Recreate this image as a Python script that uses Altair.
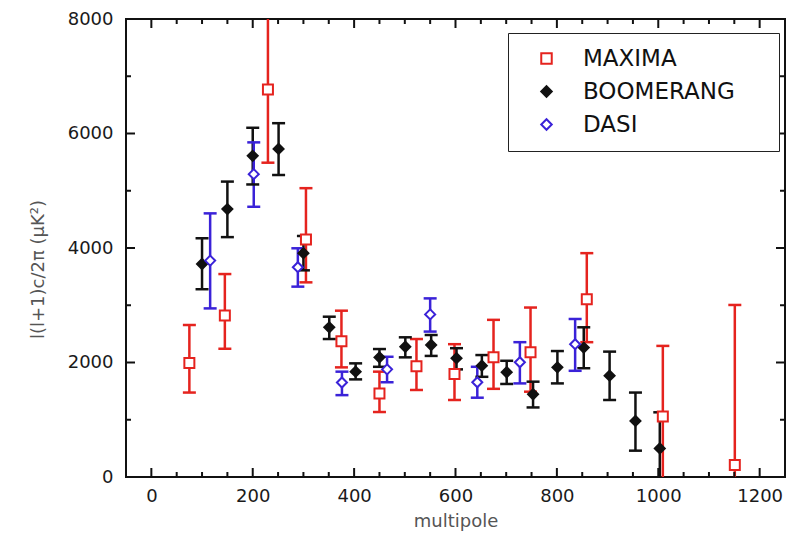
import altair as alt
import pandas as pd

# ---------------- data ----------------
series_order = ["MAXIMA", "BOOMERANG", "DASI"]

maxima_l   = [75, 145, 230, 305, 375, 450, 523, 598, 675, 748, 859, 1009, 1151]
maxima_val = [1990, 2820, 6770, 4150, 2370, 1460, 1935, 1800, 2090, 2180, 3105, 1055, 210]
maxima_lo  = [1475, 2240, 5490, 3400, 1915, 1135, 1520, 1345, 1540, 1490, 2355, -150, -150]
maxima_hi  = [2655, 3545, 8400, 5045, 2905, 1840, 2410, 2320, 2745, 2960, 3910, 2290, 3005]

boom_l   = [100, 150, 200, 251, 300, 351, 403, 450, 501, 552, 602, 652, 701, 753, 801, 853, 904, 955, 1003]
boom_val = [3720, 4680, 5610, 5730, 3910, 2615, 1840, 2090, 2275, 2305, 2075, 1945, 1830, 1445, 1915, 2260, 1770, 980, 500]
boom_lo  = [3280, 4190, 5110, 5275, 3610, 2410, 1705, 1925, 2090, 2115, 1880, 1750, 1625, 1215, 1635, 1900, 1345, 460, -150]
boom_hi  = [4170, 5160, 6100, 6180, 4210, 2800, 1985, 2235, 2440, 2480, 2250, 2130, 2030, 1665, 2200, 2615, 2190, 1475, 1130]

dasi_l   = [116, 202, 289, 376, 465, 550, 643, 727, 836]
dasi_val = [3780, 5290, 3665, 1650, 1880, 2840, 1655, 2005, 2320]
dasi_lo  = [2945, 4720, 3325, 1430, 1655, 2540, 1385, 1635, 1855]
dasi_hi  = [4605, 5845, 3995, 1840, 2100, 3120, 1925, 2355, 2760]

x_ticks_major = [0, 200, 400, 600, 800, 1000, 1200]
x_ticks_minor = [50, 100, 150, 250, 300, 350, 450, 500, 550, 650, 700, 750,
                 850, 900, 950, 1050, 1100, 1150]
y_ticks_major = [0, 2000, 4000, 6000, 8000]
y_ticks_minor = [1000, 3000, 5000, 7000]

colors = ["#e5231e", "#111111", "#3a22d8"]
fills = ["#ffffff", "#111111", "#ffffff"]
shapes = ["square", "diamond", "diamond"]

# ---------------- tables ----------------
def frame(name, l, v, lo, hi):
    return pd.DataFrame({"series": name, "l": l, "val": v, "lo": lo, "hi": hi})

df = pd.concat([
    frame("MAXIMA", maxima_l, maxima_val, maxima_lo, maxima_hi),
    frame("BOOMERANG", boom_l, boom_val, boom_lo, boom_hi),
    frame("DASI", dasi_l, dasi_val, dasi_lo, dasi_hi),
], ignore_index=True)

W, H = 659, 458
FONT = "DejaVu Sans"

xscale = alt.Scale(domain=[-50, 1250], nice=False, zero=False)
yscale = alt.Scale(domain=[0, 8000], nice=False, zero=False)

xaxis = alt.Axis(values=x_ticks_major, format="d", title="multipole", grid=False, ticks=False,
                 tickSize=0, domain=False, labelFont=FONT, labelFontSize=18,
                 labelColor="#1a1a1a", labelPadding=10, titleFont=FONT,
                 titleFontSize=18, titleFontWeight="normal", titleColor="#555555",
                 titlePadding=7)
yaxis = alt.Axis(values=y_ticks_major, format="d", title="l(l+1)c/2π (μK²)", grid=False,
                 ticks=False, tickSize=0, domain=False, labelFont=FONT,
                 labelFontSize=18, labelColor="#1a1a1a", labelPadding=13,
                 titleFont=FONT, titleFontSize=18, titleFontWeight="normal",
                 titleColor="#555555", titlePadding=20, titleY=250)

leg = alt.Legend(
    orient="none", legendX=382, legendY=14,
    labelExpr="datum.label + '\u00a0\u00a0\u00a0\u00a0\u200b'",
    strokeColor="#222222", fillColor="#ffffff",
    padding=14, rowPadding=9, symbolSize=110, symbolStrokeWidth=2,
    symbolOffset=13, labelOffset=25, labelFont=FONT, labelFontSize=23,
    labelColor="#111111", labelLimit=400,
)

stroke_enc = alt.Stroke("series:N", scale=alt.Scale(domain=series_order, range=colors),
                        title=None, legend=leg)

base = alt.Chart(df)

bars = base.mark_rule(strokeWidth=2.5, clip=True).encode(
    x=alt.X("l:Q", scale=xscale, axis=xaxis),
    y=alt.Y("lo:Q", scale=yscale, axis=yaxis),
    y2="hi:Q",
    stroke=stroke_enc,
)
cap_lo = base.mark_rule(strokeWidth=2.5, xOffset=-6.5, x2Offset=6.5, clip=True).encode(
    x="l:Q", x2="l:Q", y="lo:Q", stroke=stroke_enc)
cap_hi = base.mark_rule(strokeWidth=2.5, xOffset=-6.5, x2Offset=6.5, clip=True).encode(
    x="l:Q", x2="l:Q", y="hi:Q", stroke=stroke_enc)

pts = base.mark_point(size=100, strokeWidth=2, opacity=1, clip=True).encode(
    x="l:Q",
    y="val:Q",
    shape=alt.Shape("series:N", scale=alt.Scale(domain=series_order, range=shapes), title=None, legend=leg),
    fill=alt.Fill("series:N", scale=alt.Scale(domain=series_order, range=fills), title=None, legend=leg),
    stroke=stroke_enc,
)

# inward tick marks on all four sides
def xticks(vals, length):
    d = pd.DataFrame({"t": vals})
    bot = alt.Chart(d).mark_rule(color="#111", strokeWidth=2).encode(
        x="t:Q", y=alt.value(H), y2=alt.value(H - length))
    top = alt.Chart(d).mark_rule(color="#111", strokeWidth=2).encode(
        x="t:Q", y=alt.value(0), y2=alt.value(length))
    return [bot, top]

def yticks(vals, length):
    d = pd.DataFrame({"t": vals})
    left = alt.Chart(d).mark_rule(color="#111", strokeWidth=2).encode(
        y="t:Q", x=alt.value(0), x2=alt.value(length))
    right = alt.Chart(d).mark_rule(color="#111", strokeWidth=2).encode(
        y="t:Q", x=alt.value(W), x2=alt.value(W - length))
    return [left, right]

tick_layers = (xticks(x_ticks_major, 9) + xticks(x_ticks_minor, 5)
               + yticks(y_ticks_major, 9) + yticks(y_ticks_minor, 5))

chart = alt.layer(bars, cap_lo, cap_hi, *tick_layers, pts).properties(
    width=W, height=H,
    autosize=alt.AutoSizeParams(type="none"),
    padding={"left": 118, "top": 11, "right": 5, "bottom": 58},
).configure_view(
    stroke="#111111", strokeWidth=2
)

chart.save("out.html", embed_options={"renderer": "svg", "actions": False})
